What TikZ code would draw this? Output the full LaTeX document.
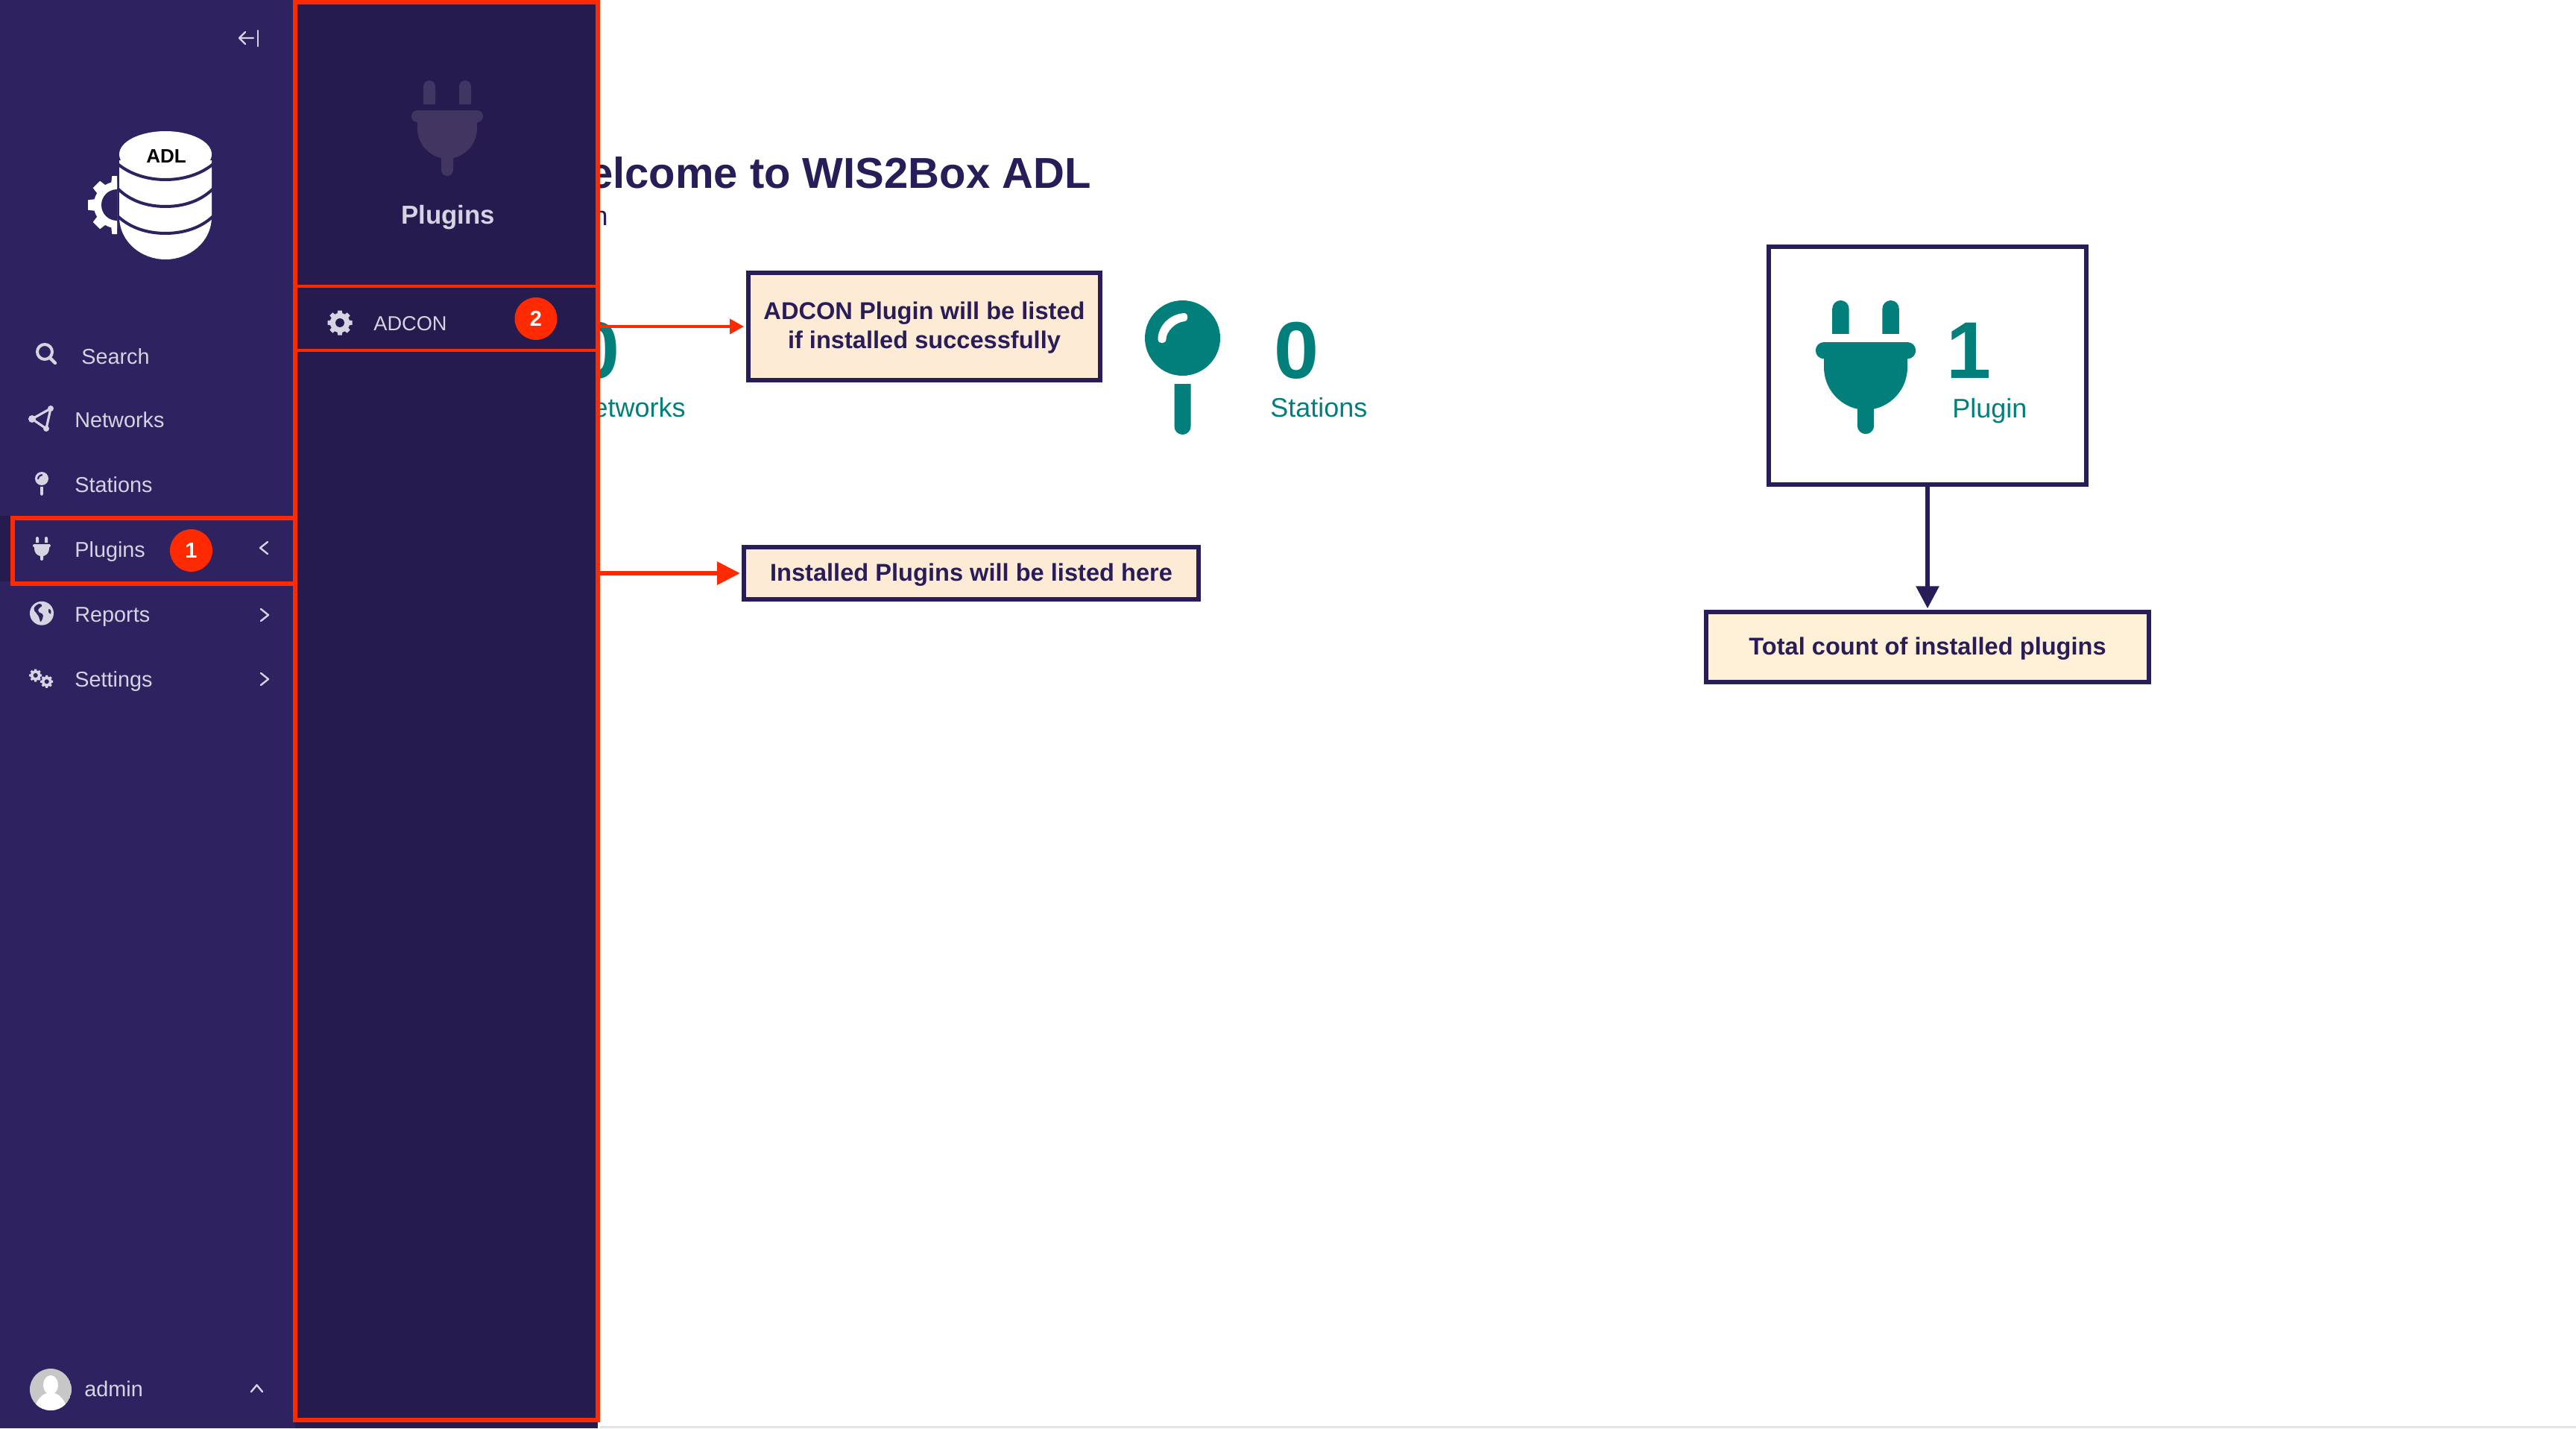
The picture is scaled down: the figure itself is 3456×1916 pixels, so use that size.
\documentclass[tikz,border=0pt]{standalone}
\usepackage{fontspec}
\setmainfont{Liberation Sans}
\usetikzlibrary{arrows.meta,shapes}
\definecolor{sidebg}{HTML}{2E2360}
\definecolor{panelbg}{HTML}{261B4F}
\definecolor{marker}{HTML}{FF2A00}
\definecolor{ink}{HTML}{291D59}
\definecolor{tealfg}{HTML}{027F7B}
\definecolor{light}{HTML}{D6D3E2}
\definecolor{faded}{HTML}{413561}
\definecolor{notefill}{HTML}{FEEBD5}
\definecolor{totalfill}{HTML}{FFF0D8}
\tikzstyle{nav}=[anchor=base west,inner sep=0pt,text=light,font=\fontsize{14.4pt}{17pt}\selectfont]
\tikzstyle{stat}=[inner sep=0pt,text=tealfg,font=\fontsize{18pt}{21pt}\selectfont]
\tikzstyle{count}=[anchor=base,inner sep=0pt,text=tealfg,font=\fontsize{54pt}{60pt}\selectfont\bfseries]
\tikzstyle{note}=[draw=ink,line width=3pt,fill=notefill,inner sep=0pt,align=center,text depth=1.7pt,text=ink,font=\fontsize{16.3pt}{19.5pt}\selectfont\bfseries]
\tikzstyle{badge}=[circle,fill=marker,minimum size=28.5pt,inner sep=0pt,text=white,font=\fontsize{14.5pt}{17pt}\selectfont\bfseries]
\tikzstyle{frame}=[draw=marker,inner sep=0pt]
\tikzstyle{chevron}=[draw=light,line width=1.2pt,line cap=round,line join=round]
\tikzset{
  pics/plugicon/.style={code={
    \fill[#1] (-32,32) -- (-32,8) arc (180:360:8) -- (-16,32) -- cycle;
    \fill[#1] (16,32) -- (16,8) arc (180:360:8) -- (32,32) -- cycle;
    \fill[#1] (-40,40) -- (40,40) arc (-90:90:8) -- (-40,56) arc (90:270:8) -- cycle;
    \fill[#1] (-40,55) -- (-40,64) .. controls (-40,84) and (-26,100) .. (-8,104)
      -- (-8,120) arc (180:0:8) -- (8,104) .. controls (26,100) and (40,84) .. (40,64) -- (40,55) -- cycle;
  }},
  pics/pinicon/.style 2 args={code={
    \fill[#1] (0,50.5) circle (50.5);
    \fill[#1] (-11,112) -- (-11,169) arc (180:0:11) -- (11,112) -- cycle;
    \fill[#2] (-33,52) .. controls (-33,35) and (-18,18) .. (3,17) .. controls (8,17) and (8,28) .. (3,28)
      .. controls (-10,29) and (-22,42) .. (-22,52) .. controls (-22,59) and (-33,59) .. (-33,52) -- cycle;
  }},
  pics/gearicon/.style 2 args={code={
    \fill[#1] (0,0) circle (.8);
    \foreach \a in {0,45,...,315}
      \fill[#1,rotate=\a] (-.22,.6) -- (.22,.6) -- (.17,1) -- (-.17,1) -- cycle;
    \fill[#2] (0,0) circle (.36);
  }}
}
\begin{document}
\begin{tikzpicture}[x=.5pt,y=-.5pt]
\useasboundingbox (0,0) rectangle (3456,1916);
\fill[white] (0,0) rectangle (3456,1916);
\fill[black!10] (805,1913) rectangle (3456,1916);
% dashboard behind the panel
  \node[anchor=base east,inner sep=0pt,text=ink,font=\fontsize{29pt}{32pt}\selectfont\bfseries] (heading) at (1464,252) {Welcome to WIS2Box ADL};
  \node[anchor=base east,inner sep=0pt,text=ink,font=\fontsize{18pt}{21pt}\selectfont] (subheading) at (816,302) {n};
  \node[count] (networkcount) at (802,507) {0};
  \node[stat,anchor=base east] (networklabel) at (920,559) {Networks};
  \pic at (1586.5,403) {pinicon={tealfg}{white}};
  \node[count] (stationcount) at (1740,507) {0};
  \node[stat,anchor=base west] (stationlabel) at (1704,559) {Stations};
% sidebar
\fill[sidebg] (0,0) rectangle (396,1916);
\fill[panelbg] (0,692) rectangle (20,780);
\fill[panelbg] (396,1900) rectangle (802,1916);
  \draw[light,line width=1.2pt,line cap=round] (346,41) -- (346,62);
  \draw[chevron] (340,51) -- (321,51) (329,43) -- (321,51) -- (329,59);
% logo
\begin{scope}
  \clip (100,220) rectangle (157,330);
  \pic[scale=39] at (157,275) {gearicon={white}{sidebg}};
  \fill[sidebg] (157,275) circle (21);
\end{scope}
\fill[white] (160,215) -- (160,290) .. controls (160,325) and (190,348) .. (222,348)
  .. controls (254,348) and (284,325) .. (284,290) -- (284,215) -- cycle;
\draw[sidebg,line width=2pt] (158,220) .. controls (175,234) and (198,241) .. (222,241) .. controls (246,241) and (269,234) .. (286,220);
\draw[sidebg,line width=2pt] (158,253) .. controls (175,270) and (198,277) .. (222,277) .. controls (246,277) and (269,270) .. (286,253);
\draw[sidebg,line width=2pt] (158,290) .. controls (175,306) and (198,313) .. (222,313) .. controls (246,313) and (269,306) .. (286,290);
\fill[white] (222,207) ellipse (62 and 31);
  \node[anchor=base,inner sep=0pt,font=\fontsize{13pt}{15pt}\selectfont\bfseries] (logotext) at (223,218) {ADL};
% menu
  \draw[light,line width=2pt] (60,472) circle (10);
  \draw[light,line width=2.2pt,line cap=round] (67,480) -- (74,487);
  \node[nav] (search) at (109,488) {Search};
  \draw[light,line width=1.6pt] (68,548) -- (43,562) -- (62,575) -- cycle;
  \fill[light] (68,548) circle (4) (43,562) circle (5) (62,575) circle (4);
  \node[nav] (networks) at (100,573) {Networks};
  \pic[scale=.178] at (56,633) {pinicon={light}{sidebg}};
  \node[nav] (stations) at (100,660) {Stations};
  \pic[scale=.25] at (56,720) {plugicon=light};
  \node[nav] (plugins) at (100,747) {Plugins};
  \fill[light] (56,822.7) circle (16);
  \fill[sidebg,rounded corners=1pt] (46.7,813) -- (54,809) -- (57,813) -- (51.7,816) -- (50.7,820.7) -- (58.3,824) -- (56.7,831.7) -- (54,835) -- (52.7,828) -- (48.3,821.7) -- (45,818.3) -- cycle;
  \fill[sidebg,rounded corners=.5pt] (65,816.7) -- (68.3,818.3) -- (68.3,824) -- (65,821.7) -- cycle;
  \node[nav] (reports) at (100,834) {Reports};
  \pic[scale=8.5] at (47.7,906) {gearicon={light}{sidebg}};
  \pic[scale=8.5] at (62.7,914.3) {gearicon={light}{sidebg}};
  \node[nav] (settings) at (100,921) {Settings};
  \draw[chevron] (359,727) -- (349,735) -- (359,743);
  \draw[chevron] (350,817) -- (360,825) -- (350,833);
  \draw[chevron] (350,903) -- (360,911) -- (350,919);
% user
\begin{scope}
  \clip (68,1864) circle (28);
  \fill[black!22] (68,1864) circle (28);
  \fill[white] (68,1858) ellipse (10 and 13);
  \fill[white] (68,1896) ellipse (22 and 28);
\end{scope}
  \node[nav] (admin) at (113,1873) {admin};
  \draw[chevron] (337,1867) -- (344.5,1858) -- (352,1867);
% panel
  \node[frame,line width=3pt,fill=panelbg,minimum width=203pt,minimum height=951pt] (panel) at (599,954) {};
  \pic at (600,108) {plugicon=faded};
  \node[anchor=base,inner sep=0pt,text=light,font=\fontsize{17.4pt}{20pt}\selectfont\bfseries] (paneltitle) at (601,300) {Plugins};
  \node[frame,line width=2pt,minimum width=203pt,minimum height=43pt] (adconrow) at (599,427) {};
  \pic[scale=16.5] at (456,433) {gearicon={light}{panelbg}};
  \node[nav,font=\fontsize{13.6pt}{16pt}\selectfont] (adcon) at (501,443) {ADCON};
  \node[badge] (badgetwo) at (719,427.5) {2};
  \node[frame,line width=3pt,minimum width=189.5pt,minimum height=44pt] (pluginsrow) at (206.5,739) {};
  \node[badge] (badgeone) at (256.5,738.5) {1};
% callouts
  \coordinate (adconout) at (805,438);
  \coordinate (panelout) at (805,769);
  \node[note,minimum width=236pt,minimum height=72pt] (adconnote) at (1240,438) {ADCON Plugin will be listed\\if installed successfully}
    edge [<-,>={Triangle[length=9.5pt,width=10pt]},draw=marker,line width=2pt,shorten <=1.5pt] (adconout);
  \node[note,minimum width=305pt,minimum height=35pt] (installednote) at (1303,769) {Installed Plugins will be listed here}
    edge [<-,>={Triangle[length=15.5pt,width=15pt]},draw=marker,line width=3pt,shorten <=1pt] (panelout);
% plugin counter
  \node[draw=ink,line width=3pt,fill=white,inner sep=0pt,minimum width=213pt,minimum height=159.5pt] (pluginbox) at (2586,490.5) {};
  \pic[scale=1.4] at (2503,403) {plugicon=tealfg};
  \node[count,anchor=base east] (plugincount) at (2672,507) {1};
  \node[stat,anchor=base west] (pluginlabel) at (2619,560) {Plugin};
  \node[note,fill=totalfill,minimum width=297pt,minimum height=46.75pt] (totalnote) at (2586,868) {Total count of installed plugins}
    edge [<-,>={Triangle[length=15pt,width=15pt]},draw=ink,line width=3pt,shorten <=1pt] (pluginbox);
\end{tikzpicture}
\end{document}
